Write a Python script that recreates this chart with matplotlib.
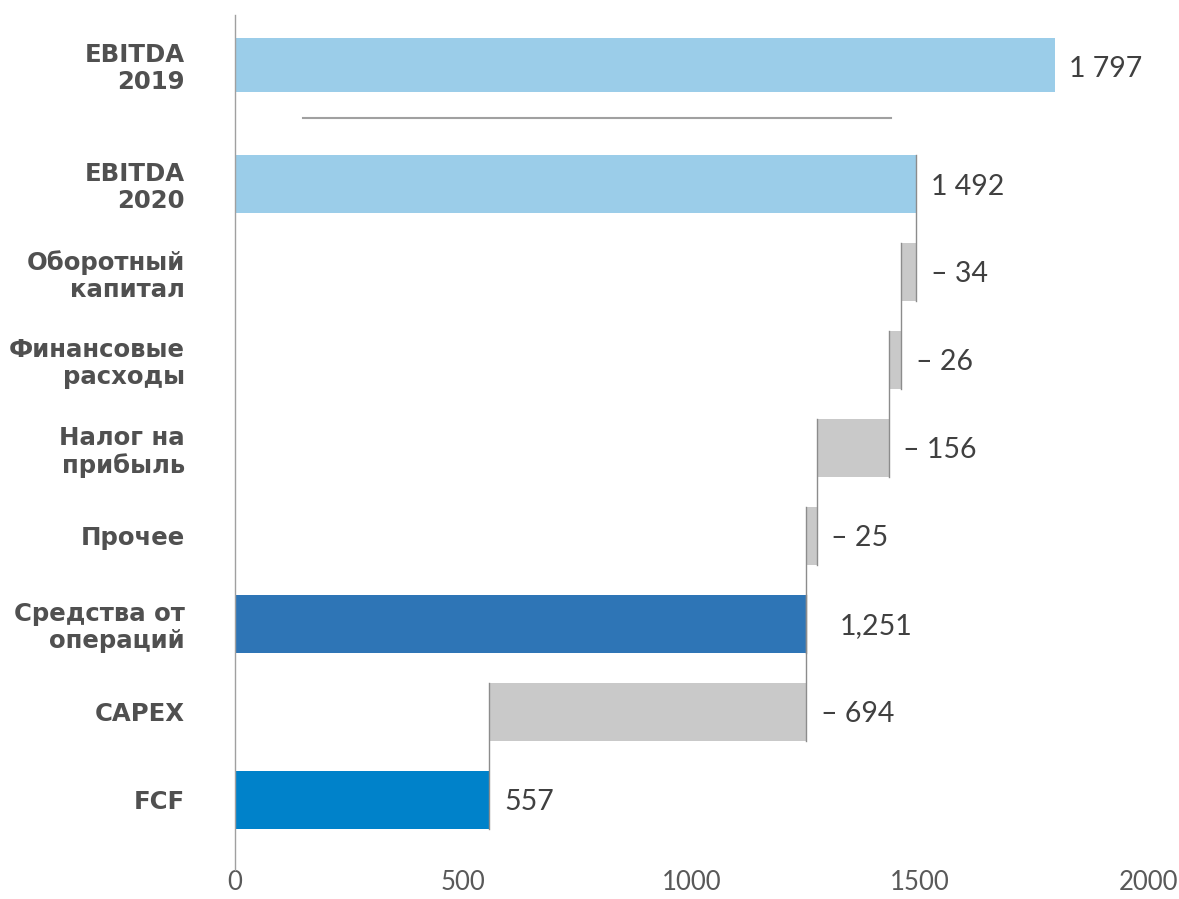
import matplotlib
matplotlib.use("Agg")
import matplotlib.pyplot as plt
from matplotlib.transforms import offset_copy

# ---- data ----
categories = ["EBITDA\n2020", "Оборотный\nкапитал", "Финансовые\nрасходы", "Налог на\nприбыль",
              "Прочее", "Средства от\nопераций", "CAPEX", "FCF"]
values = [1492, -34, -26, -156, -25, 1251, -694, 557]
kinds = ["total", "delta", "delta", "delta", "delta", "total", "delta", "total"]
value_labels = ["1 492", "– 34", "– 26", "– 156", "– 25", "1,251", "– 694", "557"]

prev_category = "EBITDA\n2019"
prev_value = 1797
prev_label = "1 797"

x_ticks = [0, 500, 1000, 1500, 2000]

# ---- style ----
c_light = "#9BCDE9"
c_gray = "#C9C9C9"
c_dark = "#2E75B6"
c_fcf = "#0082CA"
bar_colors = [c_light, c_gray, c_gray, c_gray, c_gray, c_dark, c_gray, c_fcf]
label_offsets = [11, 11, 11, 10, 10, 24, 11, 11]
bar_h = 0.66

fig = plt.figure(figsize=(11.79, 8.99), dpi=100)
ax = fig.add_axes([235/1179, 1-870/899, (1148-235)/1179, (870-15)/899])

rows = list(range(len(categories)))
y_prev = -1.352

# compute bar positions
lefts, widths, ends = [], [], []
running = 0
for v, k in zip(values, kinds):
    if k == "total":
        left, width = 0, v
        running = v
    else:
        new = running + v
        left, width = new, -v
        running = new
    lefts.append(left)
    widths.append(width)
    ends.append(running)

ax.barh(rows, widths, left=lefts, height=bar_h, color=bar_colors, zorder=2)
ax.barh([y_prev], [prev_value], left=[0], height=0.61, color=c_light, zorder=2)

# connector lines
for i in range(len(rows) - 1):
    ax.plot([ends[i], ends[i]], [rows[i] - bar_h/2, rows[i+1] + bar_h/2],
            color="#8C8C8C", lw=1.0, zorder=3)

# separator line between 2019 and 2020
ax.plot([149, 1438], [-0.75, -0.75], color="#A0A0A0", lw=1.5, zorder=1)

# value labels
lab_font = dict(family="Lato", size=20.5, color="#404040")
for i, (lab, off) in enumerate(zip(value_labels, label_offsets)):
    xr = max(lefts[i], lefts[i] + widths[i])
    tr = offset_copy(ax.transData, fig=fig, x=off, y=0, units="points")
    ax.text(xr, rows[i] + 0.03, lab, transform=tr, ha="left", va="center", **lab_font)
tr = offset_copy(ax.transData, fig=fig, x=10, y=0, units="points")
ax.text(prev_value, y_prev + 0.05, prev_label, transform=tr, ha="left", va="center", **lab_font)

ax.set_ylim(7.80, -1.92)
ax.set_xlim(0, 2000)
ax.set_yticks([y_prev] + rows)
ax.set_yticklabels([prev_category] + categories, fontsize=17.6, fontweight="bold",
                   color="#505050", family="DejaVu Sans", linespacing=1.15)
ax.set_xticks(x_ticks)
ax.set_xticklabels([str(t) for t in x_ticks], family="Lato", fontsize=18.5, color="#595959")
ax.tick_params(axis="y", length=0, pad=36)
ax.tick_params(axis="x", length=0, pad=0)
for s in ["top", "right", "bottom"]:
    ax.spines[s].set_visible(False)
ax.spines["left"].set_color("#A0A0A0")
ax.spines["left"].set_linewidth(1.0)

fig.savefig("out.png", dpi=100)
